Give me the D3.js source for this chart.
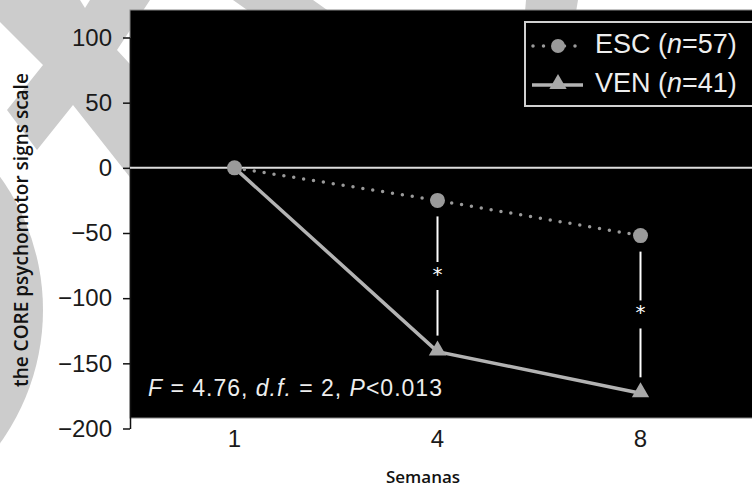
<!DOCTYPE html>
<html>
<head>
<meta charset="utf-8">
<script src="https://cdn.jsdelivr.net/npm/d3@7"></script>
<style>
  body { margin: 0; background: #fff; }
  svg { display: block; }
</style>
</head>
<body>
<script>
// data
var weeks = ["1", "4", "8"];
var escValues = [0, -25, -52];
var venValues = [0, -141, -173];
var yTicks = [100, 50, 0, -50, -100, -150, -200];
var signifWeeks = ["4", "8"];

var W = 752, H = 491;
var plot = {left: 130, top: 10, right: 760, bottom: 418};

var svg = d3.select("body").append("svg")
    .attr("width", W)
    .attr("height", H);

// grey watermark shapes behind the plot
var wm = svg.append("g").attr("fill", "#cccccc");
wm.append("polygon").attr("points",
  "0,0 80,0 85,8 90,0 150,0 117,50 140,75 140,190 73,105 37,150 7,110 43,65 0,22");
wm.append("polygon").attr("points", "233,0 313,0 330,12 250,12");
wm.append("polygon").attr("points", "526,0 578,0 576,12 525,12");
wm.append("path").attr("d", d3.arc()({innerRadius: 0, outerRadius: 228, startAngle: 0, endAngle: Math.PI}))
  .attr("transform", "translate(-185,310)");

var x = d3.scalePoint().domain(weeks).range([133, 742]).padding(0.5);
var y = d3.scaleLinear().domain([-200, 100]).range([428.5, 37.5]);

// black panel
svg.append("rect")
  .attr("x", plot.left).attr("y", plot.top)
  .attr("width", plot.right - plot.left).attr("height", plot.bottom - plot.top)
  .attr("fill", "#000").attr("stroke", "#888").attr("stroke-width", 1);

// y axis
var yAxis = svg.append("g")
  .attr("transform", "translate(" + plot.left + ",0)")
  .call(d3.axisLeft(y).tickValues(yTicks).tickSize(7).tickSizeOuter(0).tickPadding(11));
yAxis.select(".domain").attr("stroke", "#111").attr("stroke-width", 1.5);
yAxis.selectAll(".tick line").attr("stroke", "#111").attr("stroke-width", 1.5);
yAxis.selectAll(".tick text")
  .attr("font-family", "Liberation Sans, Arial, sans-serif")
  .attr("font-size", 24).attr("fill", "#1a1a1a");

// x tick labels
svg.append("g").selectAll("text")
  .data(weeks)
  .enter().append("text")
  .attr("x", function(d) { return x(d); })
  .attr("y", 447)
  .attr("text-anchor", "middle")
  .attr("font-family", "Liberation Sans, Arial, sans-serif")
  .attr("font-size", 24).attr("fill", "#1a1a1a")
  .text(function(d) { return d; });

// zero reference line
svg.append("line")
  .attr("x1", plot.left).attr("x2", plot.right)
  .attr("y1", y(0)).attr("y2", y(0))
  .attr("stroke", "#dddddd").attr("stroke-width", 2);

// significance markers
signifWeeks.forEach(function(w) {
  var i = weeks.indexOf(w);
  var top = y(escValues[i]) + 16, bot = y(venValues[i]) - 16;
  var mid = (top + bot) / 2;
  var g = svg.append("g");
  g.append("line").attr("x1", x(w)).attr("x2", x(w)).attr("y1", top).attr("y2", mid - 14)
    .attr("stroke", "#fff").attr("stroke-width", 2);
  g.append("line").attr("x1", x(w)).attr("x2", x(w)).attr("y1", mid + 14).attr("y2", bot)
    .attr("stroke", "#fff").attr("stroke-width", 2);
  g.append("text").attr("x", x(w)).attr("y", mid + 5)
    .attr("text-anchor", "middle")
    .attr("font-family", "DejaVu Sans, sans-serif")
    .attr("font-size", 20).attr("fill", "#fff")
    .text("*");
});

var seriesLine = d3.line()
  .x(function(d, i) { return x(weeks[i]); })
  .y(function(d) { return y(d); });

// VEN series (first marker sits under the ESC circle)
svg.append("path")
  .attr("d", seriesLine(venValues))
  .attr("fill", "none").attr("stroke", "#b3b3b3").attr("stroke-width", 3.5);
svg.selectAll(".tri")
  .data(venValues)
  .enter().append("path")
  .attr("class", "tri")
  .filter(function(d, i) { return d !== escValues[i]; })
  .attr("d", d3.symbol().type(d3.symbolTriangle).size(130))
  .attr("transform", function(d) { return "translate(" + x(weeks[venValues.indexOf(d)]) + "," + (y(d) - 1) + ")"; })
  .attr("fill", "#a8a8a8");

// ESC series
svg.append("path")
  .attr("d", seriesLine(escValues))
  .attr("fill", "none").attr("stroke", "#9a9a9a").attr("stroke-width", 3.5)
  .attr("stroke-linecap", "round").attr("stroke-dasharray", "0 10");
svg.selectAll(".dot")
  .data(escValues)
  .enter().append("circle")
  .attr("class", "dot")
  .attr("r", 7.5)
  .attr("cx", function(d, i) { return x(weeks[i]); })
  .attr("cy", function(d) { return y(d); })
  .attr("fill", "#9a9a9a");

// statistics note
var note = svg.append("text")
  .attr("x", 148).attr("y", 396)
  .attr("font-family", "Liberation Sans, Arial, sans-serif")
  .attr("font-size", 23).attr("letter-spacing", 1).attr("fill", "#eeeeee");
note.append("tspan").attr("font-style", "italic").text("F");
note.append("tspan").text(" = 4.76, ");
note.append("tspan").attr("font-style", "italic").text("d.f.");
note.append("tspan").text(" = 2, ");
note.append("tspan").attr("font-style", "italic").text("P");
note.append("tspan").text("<0.013");

// legend
var legend = svg.append("g");
legend.append("rect")
  .attr("x", 525).attr("y", 22).attr("width", 300).attr("height", 84)
  .attr("fill", "none").attr("stroke", "#d0d0d0").attr("stroke-width", 2);
legend.append("line")
  .attr("x1", 533).attr("x2", 578).attr("y1", 46).attr("y2", 46)
  .attr("stroke", "#9a9a9a").attr("stroke-width", 3.5)
  .attr("stroke-linecap", "round").attr("stroke-dasharray", "0 10.5");
legend.append("circle").attr("cx", 558).attr("cy", 46).attr("r", 7).attr("fill", "#9a9a9a");
legend.append("line")
  .attr("x1", 532).attr("x2", 583).attr("y1", 85).attr("y2", 85)
  .attr("stroke", "#b3b3b3").attr("stroke-width", 3.5);
legend.append("path")
  .attr("d", d3.symbol().type(d3.symbolTriangle).size(130))
  .attr("transform", "translate(558,84)")
  .attr("fill", "#a8a8a8");
var labels = [["ESC (", "n", "=57)"], ["VEN (", "n", "=41)"]];
labels.forEach(function(l, i) {
  var t = legend.append("text")
    .attr("x", 595).attr("y", 53 + i * 39)
    .attr("font-family", "Liberation Sans, Arial, sans-serif")
    .attr("font-size", 27).attr("fill", "#eeeeee");
  t.append("tspan").text(l[0]);
  t.append("tspan").attr("font-style", "italic").text(l[1]);
  t.append("tspan").text(l[2]);
});

// axis titles
svg.append("text")
  .attr("x", 423).attr("y", 483)
  .attr("text-anchor", "middle")
  .attr("font-family", "Open Sans, sans-serif")
  .attr("font-weight", 600).attr("font-size", 17).attr("fill", "#111")
  .text("Semanas");
svg.append("text")
  .attr("transform", "translate(28,230) rotate(-90)")
  .attr("text-anchor", "middle")
  .attr("font-family", "Open Sans, sans-serif")
  .attr("font-weight", 600).attr("font-size", 19).attr("fill", "#111")
  .text("the CORE psychomotor signs scale");
</script>
</body>
</html>
